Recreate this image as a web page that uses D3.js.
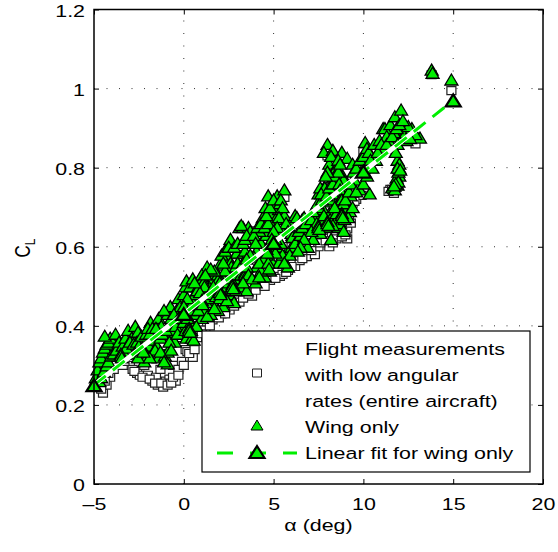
<!DOCTYPE html>
<html>
<head>
<meta charset="utf-8">
<script src="https://cdn.jsdelivr.net/npm/d3@7"></script>
<style>
body { margin: 0; background: #fff; }
text { font-family: "Liberation Sans", Arial, Helvetica, sans-serif; }
</style>
</head>
<body>
<svg id="chart"></svg>
<script>
const width = 558;
const height = 552;
const SX = 1.26; // the original figure is stretched sideways, text too

const xTicks = [-5, 0, 5, 10, 15, 20];
const yTicks = [0, 0.2, 0.4, 0.6, 0.8, 1, 1.2];

// linear fit for wing only
const fitAlpha = [-5, 0, 5, 10, 15];
const fitCL = [0.25, 0.43, 0.61, 0.79, 0.97];

// flight measurements with low angular rates (entire aircraft), [alpha, CL]
const flightData = [
  [-4.5,0.23],[-4.3,0.25],[-4.1,0.27],[-3.9,0.29],[-3.75,0.32],[-3.5,0.31],[-3.2,0.33],[-3.0,0.30],
  [-2.85,0.29],[-2.6,0.28],[-2.45,0.275],[-2.2,0.30],[-2.0,0.275],[-1.75,0.26],[-1.55,0.27],[-1.45,0.25],
  [-1.3,0.29],[-1.15,0.245],[-1.0,0.26],[-0.8,0.265],[-0.6,0.30],[-0.45,0.26],[-0.3,0.29],[-0.1,0.31],
  [0.1,0.34],[0.2,0.335],[0.35,0.32],[0.5,0.32],[0.5,0.40],[0.9,0.40],[1.2,0.39],[1.3,0.41],
  [1.6,0.415],[1.8,0.43],[2.1,0.43],[2.55,0.44],[2.5,0.47],[3.1,0.46],[3.5,0.50],[3.8,0.475],
  [4.2,0.50],[4.8,0.515],[5.35,0.525],[5.5,0.53],[5.8,0.54],[6.2,0.55],[6.45,0.565],[6.85,0.575],
  [7.3,0.58],[7.0,0.61],[7.5,0.60],[7.75,0.625],[8.1,0.60],[8.5,0.62],[9.1,0.62],[9.1,0.645],
  [9.3,0.66],[9.4,0.71],[9.6,0.72],[11.5,0.745],[11.7,0.735],[11.85,0.75],[13.8,1.035],[14.9,0.995],
  [5.6,0.725],[2.0,0.52],[3.0,0.58],[4.0,0.64],[5.0,0.68],[6.0,0.62],[8.0,0.83],[8.3,0.73],
  [10.0,0.84],[12.2,0.87],[12.9,0.86],[-3.6,0.34],[-2.3,0.32],[-1.2,0.35],[-0.2,0.37],[1.0,0.45],
  [2.3,0.50],[4.5,0.56],[5.5,0.60],[7.2,0.64],[8.7,0.66],[9.9,0.73],[11.0,0.84],
  [-4.6,0.24],[-4.4,0.26],[-4.2,0.28],[-4.0,0.30],[-3.8,0.30],[-3.4,0.30],[-3.3,0.31],[-2.75,0.285],
  [-2.3,0.27],[-1.9,0.265],[-1.6,0.255],[-1.25,0.255],[-0.9,0.25],[-0.7,0.255],[-0.6,0.27],[-0.3,0.275],
  [0.0,0.30],[0.3,0.33],[0.6,0.34],[0.75,0.37],[1.0,0.38],[1.45,0.40],[1.95,0.42],[2.3,0.43],
  [2.8,0.45],[3.3,0.47],[3.6,0.48],[4.0,0.49],[4.5,0.50],[5.1,0.52],[5.7,0.535],[6.0,0.55],
  [6.6,0.57],[7.1,0.59],[7.6,0.61],[7.9,0.615],[8.3,0.61],[8.8,0.625],[9.0,0.63],[9.2,0.68],
  [9.3,0.70],[9.5,0.715],[11.4,0.74],[11.6,0.745]
];

// wing only, [alpha, CL]
const wingData = [
  [-4.85,0.265],[-4.75,0.28],[-4.65,0.29],[-4.55,0.30],[-4.5,0.31],[-4.4,0.32],[-4.3,0.33],[-4.25,0.34],
  [-4.15,0.345],[-4.05,0.35],[-3.95,0.36],[-3.85,0.365],
  [-4.9,0.27],[-4.8,0.29],[-4.7,0.31],[-4.6,0.32],[-4.5,0.335],[-4.4,0.345],[-4.3,0.355],[-4.2,0.36],
  [-4.1,0.37],[-4.7,0.26],[-4.6,0.27],[-4.45,0.285],[-4.3,0.30],[-4.2,0.31],[-4.05,0.325],[-3.9,0.33],
  [-3.75,0.34],
  [-4.4,0.375],[-3.8,0.38],[-3.6,0.36],[-3.4,0.35],[-3.25,0.37],[-3.1,0.39],[-2.9,0.37],[-2.7,0.40],
  [-2.55,0.385],[-2.3,0.365],[-2.2,0.31],[-2.05,0.335],[-1.95,0.35],[-1.85,0.41],[-1.8,0.365],[-1.6,0.38],
  [-1.45,0.41],[-1.4,0.42],[-1.4,0.32],[-1.25,0.40],[-1.05,0.325],[-0.9,0.305],[-0.9,0.335],[-0.9,0.43],
  [-0.75,0.45],[-0.6,0.385],[-0.5,0.36],[-0.4,0.44],[-0.3,0.47],[-0.2,0.40],[-0.05,0.39],[-1.1,0.44],
  [-1.7,0.39],[-2.4,0.34],[-3.0,0.35],[-0.6,0.415],[-0.2,0.45],
  [-3.3,0.33],[-3.2,0.345],[-3.0,0.36],[-2.8,0.355],[-2.6,0.36],[-2.5,0.35],[-2.35,0.375],[-2.1,0.38],
  [-2.0,0.395],[-1.9,0.38],[-1.75,0.395],[-1.55,0.395],[-1.5,0.35],[-1.3,0.37],[-1.2,0.38],[-1.0,0.39],
  [-0.85,0.40],[-0.7,0.42],[-0.55,0.43],[-0.45,0.40],[-0.3,0.42],[-0.1,0.43],[-1.6,0.34],[-1.3,0.335],
  [-0.8,0.36],[-0.7,0.34],[-0.35,0.38],[-2.7,0.33],[-2.55,0.32],[-1.9,0.32],[-1.1,0.31],
  [-3.5,0.33],[-3.5,0.325],[-3.45,0.32],[-2.3,0.345],[-2.3,0.34],[-2.25,0.335],
  [0.0,0.48],[0.1,0.50],[0.1,0.39],[0.15,0.37],[0.45,0.37],[0.55,0.365],[0.15,0.515],[0.35,0.50],
  [0.5,0.52],[0.9,0.52],[1.3,0.55],[1.6,0.52],[1.8,0.51],[2.2,0.52],[2.4,0.60],[2.7,0.54],
  [2.95,0.585],[3.1,0.50],[3.4,0.59],[3.5,0.49],[2.55,0.48],[0.9,0.45],[1.6,0.465],[2.2,0.45],
  [0.0,0.41],[0.6,0.43],[1.1,0.48],[1.4,0.50],[2.0,0.555],[2.5,0.57],[1.0,0.42],[1.9,0.44],
  [2.8,0.46],[3.0,0.52],[0.7,0.47],[0.3,0.455],[0.4,0.41],[1.2,0.44],[1.5,0.43],[2.3,0.49],
  [2.1,0.58],[2.6,0.62],[0.8,0.50],[1.7,0.49],[1.0,0.53],[1.05,0.52],[1.1,0.51],[1.15,0.50],
  [2.6,0.56],[2.65,0.55],[2.7,0.53],[1.9,0.53],[1.95,0.52],[2.0,0.51],
  [0.2,0.42],[0.3,0.44],[0.5,0.46],[0.6,0.48],[0.75,0.49],[0.9,0.485],[1.1,0.47],[1.25,0.46],
  [1.35,0.47],[1.5,0.48],[1.65,0.50],[1.8,0.475],[2.0,0.47],[2.1,0.485],[2.4,0.50],[2.5,0.51],
  [2.6,0.52],[2.8,0.53],[2.9,0.55],[3.0,0.56],[2.3,0.54],[2.2,0.56],[1.7,0.54],[1.5,0.545],
  [1.2,0.53],[0.6,0.51],[0.2,0.47],[0.0,0.45],[0.4,0.39],[0.7,0.40],[0.8,0.44],[1.3,0.425],
  [1.7,0.445],[2.4,0.465],[2.9,0.49],[3.2,0.53],[3.3,0.56],[2.3,0.59],[2.5,0.60],[2.8,0.60],
  [3.0,0.61],
  [1.0,0.465],[1.0,0.46],[1.05,0.455],[2.0,0.49],[2.0,0.485],[2.05,0.48],[2.7,0.505],[2.7,0.50],
  [2.75,0.495],[3.4,0.535],[3.4,0.53],[3.45,0.525],[0.3,0.395],[0.3,0.39],[0.35,0.385],
  [3.1,0.65],[3.3,0.65],[3.6,0.65],[3.7,0.64],[3.2,0.655],[4.05,0.59],[4.4,0.675],[4.55,0.70],
  [4.7,0.73],[4.85,0.685],[4.95,0.705],[5.2,0.73],[5.3,0.695],[5.1,0.67],[5.6,0.745],[5.0,0.70],
  [5.35,0.71],[4.95,0.56],[4.8,0.54],[5.7,0.585],[4.05,0.55],[3.8,0.62],[4.3,0.61],[4.6,0.63],
  [5.5,0.64],[6.0,0.60],[5.9,0.66],[3.5,0.55],[4.0,0.51],[4.5,0.525],[5.3,0.56],[5.8,0.55],
  [4.2,0.64],[4.8,0.60],[5.4,0.61],[3.9,0.575],[4.6,0.58],[5.1,0.62],[3.3,0.61],[3.6,0.53],
  [4.3,0.54],[5.6,0.68],[4.9,0.655],
  [3.4,0.62],[3.5,0.63],[3.9,0.63],[4.0,0.61],[4.1,0.65],[4.3,0.66],[4.5,0.65],[4.7,0.66],
  [4.6,0.68],[4.8,0.70],[5.0,0.72],[5.4,0.72],[5.5,0.70],[5.3,0.675],[5.7,0.66],[5.8,0.64],
  [5.2,0.65],[5.0,0.64],[4.9,0.62],[5.2,0.60],[5.5,0.58],[5.9,0.58],[6.05,0.63],[4.4,0.57],
  [4.2,0.56],[4.7,0.56],[5.1,0.585],[3.7,0.58],[3.5,0.57],[3.8,0.52],[4.2,0.525],[3.3,0.51],
  [4.75,0.545],[5.6,0.56],
  [4.6,0.595],[4.6,0.59],[4.65,0.585],[6.0,0.64],[6.0,0.635],[6.05,0.625],
  [6.2,0.61],[6.2,0.68],[6.3,0.675],[6.6,0.67],[6.7,0.675],[7.0,0.65],[7.0,0.66],[7.6,0.635],
  [7.6,0.67],[7.35,0.695],[7.5,0.735],[7.8,0.75],[7.9,0.715],[7.9,0.65],[8.1,0.685],[8.15,0.67],
  [8.3,0.735],[8.45,0.75],[8.45,0.665],[8.6,0.71],[8.6,0.65],[8.7,0.66],[8.5,0.685],[9.0,0.745],
  [9.0,0.695],[9.1,0.70],[9.25,0.69],[8.85,0.73],[7.6,0.75],[7.85,0.75],[8.0,0.86],[7.8,0.84],
  [8.3,0.845],[8.8,0.84],[9.1,0.825],[8.1,0.81],[8.45,0.80],[8.85,0.78],[8.9,0.77],[9.4,0.81],
  [8.3,0.775],[8.5,0.80],[10.1,0.865],[9.8,0.745],[10.35,0.735],[6.5,0.63],[6.8,0.64],[7.2,0.62],
  [7.3,0.68],[6.9,0.60],[7.7,0.70],[8.2,0.72],[8.2,0.62],[8.9,0.64],[9.3,0.73],[9.5,0.77],
  [9.7,0.79],[10.0,0.80],
  [6.4,0.64],[6.6,0.65],[6.8,0.66],[7.1,0.67],[7.2,0.69],[7.45,0.71],[7.7,0.72],[7.65,0.735],
  [7.95,0.73],[8.1,0.75],[8.3,0.76],[8.4,0.78],[8.6,0.79],[8.65,0.76],[8.7,0.745],[8.8,0.72],
  [8.9,0.71],[9.0,0.72],[9.2,0.74],[9.3,0.76],[9.45,0.79],[9.6,0.80],[9.8,0.82],[10.0,0.83],
  [10.2,0.85],[8.2,0.83],[8.6,0.82],[8.7,0.81],[8.0,0.79],[7.9,0.78],[8.4,0.70],[8.3,0.655],
  [7.8,0.68],[7.4,0.66],[7.1,0.64],[6.7,0.62],[6.5,0.60],[6.35,0.59],[8.95,0.67],[9.15,0.675],
  [9.4,0.70],[9.6,0.74],[10.0,0.76],[10.2,0.78],
  [7.5,0.655],[7.5,0.65],[7.55,0.645],[8.0,0.665],[8.0,0.66],[8.05,0.655],[8.8,0.685],[8.8,0.68],
  [8.85,0.675],
  [10.3,0.84],[10.6,0.86],[10.9,0.87],[11.1,0.90],[11.2,0.90],[11.5,0.91],[11.75,0.93],[12.1,0.947],
  [12.0,0.88],[12.3,0.89],[12.35,0.888],[12.7,0.90],[13.15,0.876],[12.0,0.80],[11.9,0.82],[12.0,0.78],
  [11.85,0.775],[11.9,0.757],[11.6,0.75],[11.75,0.745],[12.0,0.81],[11.95,0.79],[11.95,0.765],[11.1,0.85],
  [10.7,0.82],[11.4,0.87],[10.5,0.80],[11.7,0.89],[12.5,0.905],[12.9,0.885],[11.3,0.88],
  [10.4,0.82],[10.8,0.84],[11.0,0.86],[11.3,0.86],[11.6,0.88],[11.85,0.90],[12.0,0.91],[12.2,0.92],
  [12.4,0.87],[12.6,0.875],[11.9,0.86],[11.8,0.84],[11.9,0.80],[12.05,0.795],[11.8,0.76],[11.7,0.755],
  [13.8,1.048],[13.85,1.04],[14.9,1.023]
];

const legendLabels = [
  'Flight measurements',
  'with low angular',
  'rates (entire aircraft)',
  'Wing only',
  'Linear fit for wing only'
];

const green = '#00ee00';

const svg = d3.select('#chart')
  .attr('width', width)
  .attr('height', height);

const x = d3.scaleLinear().domain([-5, 20]).range([94, 543]);
const y = d3.scaleLinear().domain([0, 1.2]).range([484, 9.5]);

const triPath = (w, h) => `M0,${-h / 2}L${w / 2},${h / 2}L${-w / 2},${h / 2}Z`;
const sqPath = (w, h) => `M${-w / 2},${-h / 2}h${w}v${h}h${-w}Z`;

const fmtX = d => d < 0 ? '\u2013' + (-d) : String(d);
const fmtY = d => String(+d.toFixed(1));

// dotted grid
const grid = svg.append('g')
  .attr('stroke', '#333')
  .attr('stroke-width', 1)
  .attr('stroke-dasharray', '1,11.5');

grid.selectAll('.gx')
  .data(xTicks.slice(1, -1))
  .join('line')
  .attr('x1', d => x(d)).attr('x2', d => x(d))
  .attr('y1', y(0)).attr('y2', y(1.2));

grid.selectAll('.gy')
  .data(yTicks.slice(1, -1))
  .join('line')
  .attr('y1', d => y(d)).attr('y2', d => y(d))
  .attr('x1', x(-5)).attr('x2', x(20));

// data
svg.append('g')
  .selectAll('path')
  .data(flightData)
  .join('path')
  .attr('d', sqPath(9, 8))
  .attr('transform', d => `translate(${x(d[0])},${y(d[1])})`)
  .attr('fill', '#fff')
  .attr('stroke', '#222')
  .attr('stroke-width', 1.2);

svg.append('g')
  .selectAll('path')
  .data(wingData)
  .join('path')
  .attr('d', triPath(13, 11))
  .attr('transform', d => `translate(${x(d[0])},${y(d[1])})`)
  .attr('fill', green)
  .attr('stroke', '#000')
  .attr('stroke-width', 1.3);

// fit line
const fitPts = fitAlpha.map((a, i) => [a, fitCL[i]]);
const line = d3.line().x(d => x(d[0])).y(d => y(d[1]));

svg.append('path')
  .attr('d', line(fitPts))
  .attr('fill', 'none')
  .attr('stroke', '#fff')
  .attr('stroke-width', 5);

svg.append('path')
  .attr('d', line(fitPts))
  .attr('fill', 'none')
  .attr('stroke', green)
  .attr('stroke-width', 3)
  .attr('stroke-dasharray', '15,9');

svg.append('g')
  .selectAll('path')
  .data(fitPts)
  .join('path')
  .attr('d', triPath(15, 12))
  .attr('transform', d => `translate(${x(d[0])},${y(d[1])})`)
  .attr('fill', green)
  .attr('stroke', '#000')
  .attr('stroke-width', 2.2);

// axes with inward ticks on all four sides
const axisStyle = g => {
  g.attr('font-size', 17).attr('font-family', '"Liberation Sans", Arial, sans-serif');
  g.select('.domain').remove();
  g.selectAll('.tick line').attr('stroke', '#000').attr('stroke-width', 1);
};

svg.append('g')
  .attr('transform', `translate(0,${y(0)})`)
  .call(d3.axisBottom(x).tickValues(xTicks).tickSize(-5).tickFormat(fmtX))
  .call(axisStyle)
  .call(g => g.selectAll('text')
    .attr('y', null).attr('dy', null)
    .attr('fill', '#000')
    .attr('transform', `translate(0,26) scale(${SX},1)`));

svg.append('g')
  .attr('transform', `translate(${x(-5)},0)`)
  .call(d3.axisLeft(y).tickValues(yTicks).tickSize(-5).tickFormat(fmtY))
  .call(axisStyle)
  .call(g => g.selectAll('text')
    .attr('x', null).attr('dy', null)
    .attr('fill', '#000')
    .attr('text-anchor', 'end')
    .attr('transform', `translate(-9,6.5) scale(${SX},1)`));

svg.append('g')
  .attr('transform', `translate(0,${y(1.2)})`)
  .call(d3.axisTop(x).tickValues(xTicks).tickSize(-5).tickFormat(''))
  .call(axisStyle);

svg.append('g')
  .attr('transform', `translate(${x(20)},0)`)
  .call(d3.axisRight(y).tickValues(yTicks).tickSize(-5).tickFormat(''))
  .call(axisStyle);

svg.append('rect')
  .attr('x', x(-5)).attr('y', y(1.2))
  .attr('width', x(20) - x(-5)).attr('height', y(0) - y(1.2))
  .attr('fill', 'none')
  .attr('stroke', '#000')
  .attr('stroke-width', 1.5);

// axis titles
svg.append('text')
  .attr('transform', `translate(${(x(-5) + x(20)) / 2},531) scale(${SX},1)`)
  .attr('text-anchor', 'middle')
  .attr('font-size', 17)
  .text('\u03b1 (deg)');

const yTitle = svg.append('text')
  .attr('transform', `translate(30,248) scale(${SX},1) rotate(-90)`)
  .attr('text-anchor', 'middle')
  .attr('font-size', 17);
yTitle.append('tspan').text('C');
yTitle.append('tspan').attr('font-size', 12).attr('dy', 4).text('L');

// legend
const legend = svg.append('g');

legend.append('rect')
  .attr('x', 202).attr('y', 331)
  .attr('width', 328).attr('height', 141)
  .attr('fill', '#fff')
  .attr('stroke', '#000')
  .attr('stroke-width', 1.2);

legend.append('path')
  .attr('d', sqPath(9, 8))
  .attr('transform', 'translate(257,373)')
  .attr('fill', '#fff').attr('stroke', '#222');

legend.append('path')
  .attr('d', triPath(12, 10))
  .attr('transform', 'translate(257,425)')
  .attr('fill', green).attr('stroke', '#000');

legend.append('line')
  .attr('x1', 217).attr('x2', 297)
  .attr('y1', 453).attr('y2', 453)
  .attr('stroke', green)
  .attr('stroke-width', 3)
  .attr('stroke-dasharray', '16,17');

legend.append('path')
  .attr('d', triPath(15, 12))
  .attr('transform', 'translate(257,452)')
  .attr('fill', green).attr('stroke', '#000').attr('stroke-width', 2.2);

legend.selectAll('.lbl')
  .data(legendLabels)
  .join('text')
  .attr('transform', (d, i) => `translate(305,${355 + i * 26}) scale(${SX},1)`)
  .attr('font-size', 17)
  .text(d => d);
</script>
</body>
</html>
